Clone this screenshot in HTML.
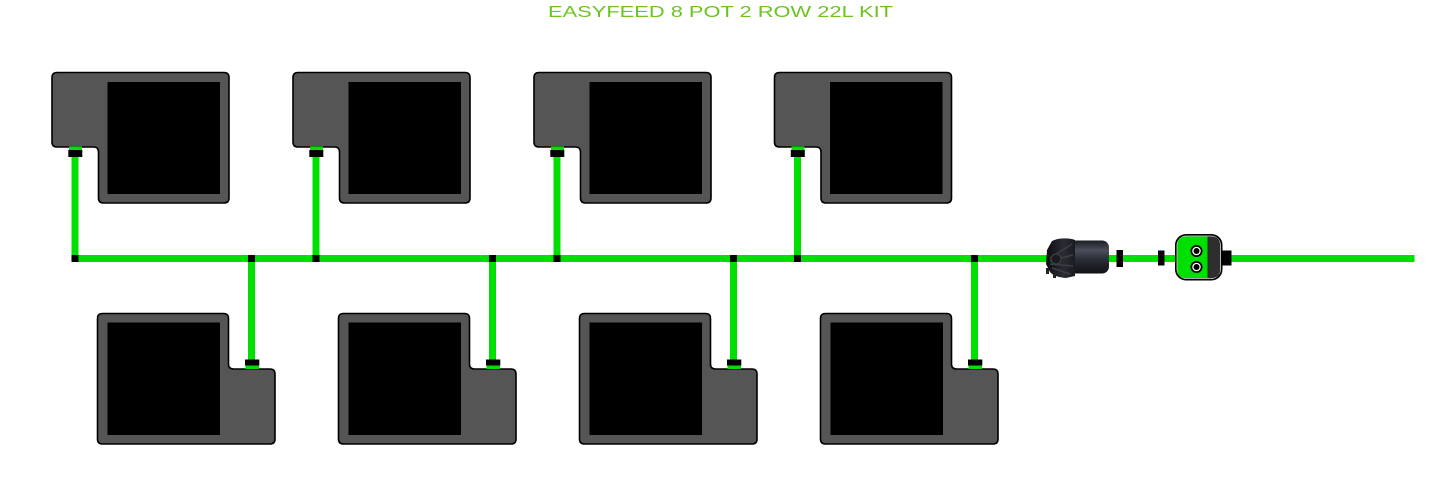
<!DOCTYPE html>
<html>
<head>
<meta charset="utf-8">
<style>
  html,body{margin:0;padding:0;background:#fff;}
  svg{display:block;}
</style>
</head>
<body>
<svg width="1445" height="500" viewBox="0 0 1445 500" xmlns="http://www.w3.org/2000/svg">
  <defs>
    <linearGradient id="cyl" x1="0" y1="0" x2="0" y2="1">
      <stop offset="0" stop-color="#1c1e24"/>
      <stop offset="0.3" stop-color="#4a4f5c"/>
      <stop offset="0.55" stop-color="#2c2f38"/>
      <stop offset="1" stop-color="#101114"/>
    </linearGradient>
    <linearGradient id="cap" x1="0" y1="0" x2="1" y2="0">
      <stop offset="0" stop-color="#0d0d10"/>
      <stop offset="0.6" stop-color="#2a2c33"/>
      <stop offset="1" stop-color="#1a1b20"/>
    </linearGradient>
  </defs>

  <!-- Title -->
  <text x="548" y="17" font-family="Liberation Sans, sans-serif" font-size="15.5" fill="#6cc41f" textLength="345" lengthAdjust="spacingAndGlyphs">EASYFEED 8 POT 2 ROW 22L KIT</text>

  <!-- Main pipe -->
  <rect x="72" y="255" width="1342.5" height="7" fill="#00e000"/>

  <!-- Top pots -->
  <g id="top1">
    <path d="M57,72.5 H224 Q229,72.5 229,77.5 V198 Q229,203 224,203 H103.5 Q98.5,203 98.5,198 V152 Q98.5,147 93.5,147 H57 Q52,147 52,142 V77.5 Q52,72.5 57,72.5 Z" fill="#555" stroke="#000" stroke-width="1.6"/>
    <rect x="107.5" y="82" width="112.5" height="112" fill="#000"/>
    <rect x="71.5" y="157" width="7" height="101.5" fill="#00e000"/>
    <rect x="69" y="146.5" width="13" height="4" fill="#00e000"/>
    <rect x="68.3" y="150" width="14" height="7" fill="#000"/>
    <rect x="71.5" y="255" width="7" height="7" fill="#000"/>
  </g>
  <use href="#top1" x="241"/>
  <use href="#top1" x="482"/>
  <use href="#top1" x="722.5"/>

  <!-- Bottom pots -->
  <g id="bot1">
    <path d="M102.5,313.5 H223.5 Q228.5,313.5 228.5,318.5 V364 Q228.5,369 233.5,369 H270 Q275,369 275,374 V439 Q275,444 270,444 H102.5 Q97.5,444 97.5,439 V318.5 Q97.5,313.5 102.5,313.5 Z" fill="#555" stroke="#000" stroke-width="1.6"/>
    <rect x="107.5" y="322.5" width="112.5" height="112.5" fill="#000"/>
    <rect x="248" y="258" width="7" height="102" fill="#00e000"/>
    <rect x="245.5" y="365" width="13.5" height="4" fill="#00e000"/>
    <rect x="245" y="359.5" width="14.3" height="6" fill="#000"/>
    <rect x="248" y="255" width="7" height="7" fill="#000"/>
  </g>
  <use href="#bot1" x="241"/>
  <use href="#bot1" x="482"/>
  <use href="#bot1" x="723"/>

  <!-- Filter -->
  <g>
    <rect x="1062" y="240.5" width="47" height="33" rx="7" fill="url(#cyl)"/>
    <path d="M1052,241 Q1060,237 1072,239 L1075,240 L1075,276 L1066,278 Q1054,277 1050,272 L1046,264 L1047,250 Z" fill="url(#cap)"/>
    <path d="M1050,258 L1072,244 M1050,261 L1073,255 M1050,264 L1073,266 M1052,268 L1070,274" stroke="#3c3f48" stroke-width="1.5" fill="none"/>
    <circle cx="1056" cy="259" r="5" fill="#1a1b1f" stroke="#444" stroke-width="1"/>
    <rect x="1046" y="268" width="3" height="6" fill="#222"/>
    <rect x="1053" y="272" width="3" height="6" fill="#222"/>
    <rect x="1116.5" y="250" width="6.5" height="17" fill="#000"/>
  </g>

  <!-- Valve -->
  <g>
    <rect x="1158" y="250.5" width="6.5" height="15" fill="#000"/>
    <rect x="1222.5" y="250.5" width="9" height="15" fill="#000"/>
    <rect x="1175" y="234" width="47.5" height="46.5" rx="11" fill="#000"/>
    <rect x="1177" y="236" width="43.5" height="42.5" rx="9.5" fill="#333" stroke="#ddd" stroke-width="0.8"/>
    <path d="M1186,236.5 H1207.5 V278 H1186 Q1177.5,278 1177.5,270 V245 Q1177.5,236.5 1186,236.5 Z" fill="#00e000"/>
    <path d="M1207.5,236.5 H1211 Q1220,236.5 1220,245 V270 Q1220,278 1211,278 H1207.5 Z" fill="#2e2e2e"/>
    <circle cx="1196.5" cy="251" r="6" fill="#000"/>
    <circle cx="1196.5" cy="251" r="4.3" fill="#fff"/>
    <circle cx="1196.5" cy="251" r="3" fill="#000"/>
    <circle cx="1196.5" cy="267" r="6" fill="#000"/>
    <circle cx="1196.5" cy="267" r="4.3" fill="#fff"/>
    <circle cx="1196.5" cy="267" r="3" fill="#000"/>
  </g>
</svg>
</body>
</html>
